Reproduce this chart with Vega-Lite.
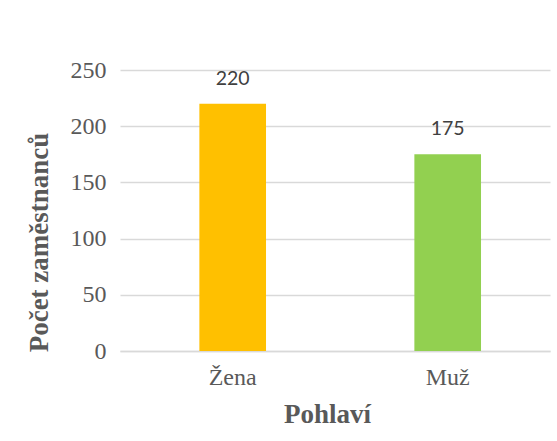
{
  "$schema": "https://vega.github.io/schema/vega-lite/v6.json",
  "autosize": "none",
  "padding": {"left": 120, "top": 70, "right": 6, "bottom": 90},
  "width": 430,
  "height": 281,
  "background": "white",
  "config": {"view": {"stroke": null}},
  "data": {"values": [
    {"Pohlavi": "Žena", "Pocet": 220},
    {"Pohlavi": "Muž", "Pocet": 175}
  ]},
  "encoding": {
    "x": {
      "field": "Pohlavi", "type": "nominal", "sort": null,
      "title": "Pohlaví",
      "scale": {"paddingInner": 0.69, "paddingOuter": 0.345, "align": 0.535},
      "axis": {
        "labelAngle": 0, "labelFont": "Liberation Serif", "labelFontSize": 24,
        "labelColor": "#595959", "labelPadding": 14, "ticks": false,
        "domainColor": "#d9d9d9", "domainWidth": 1.3,
        "titleFont": "Liberation Serif", "titleFontSize": 27, "titleFontWeight": "bold",
        "titleColor": "#595959", "titleX": 207, "titleY": 50, "titleBaseline": "top"
      }
    },
    "y": {
      "field": "Pocet", "type": "quantitative", "title": "Počet zaměstnanců",
      "scale": {"domain": [0, 250]},
      "axis": {
        "values": [0, 50, 100, 150, 200, 250],
        "labelFont": "Liberation Serif", "labelFontSize": 24, "labelColor": "#595959",
        "labelPadding": 14, "ticks": false, "domain": false,
        "gridColor": "#d9d9d9", "gridWidth": 1.3,
        "titleFont": "Liberation Serif", "titleFontSize": 27, "titleFontWeight": "bold",
        "titleColor": "#595959", "titleX": -67, "titleY": 172
      }
    }
  },
  "layer": [
    {
      "mark": {"type": "bar"},
      "encoding": {
        "color": {
          "field": "Pohlavi", "type": "nominal", "legend": null,
          "scale": {"domain": ["Žena", "Muž"], "range": ["#FFC000", "#92D050"]}
        }
      }
    },
    {
      "mark": {"type": "text", "baseline": "middle", "dy": -25, "font": "Lato", "fontSize": 19.5, "color": "#404040"},
      "encoding": {"text": {"field": "Pocet", "type": "quantitative"}}
    }
  ]
}
